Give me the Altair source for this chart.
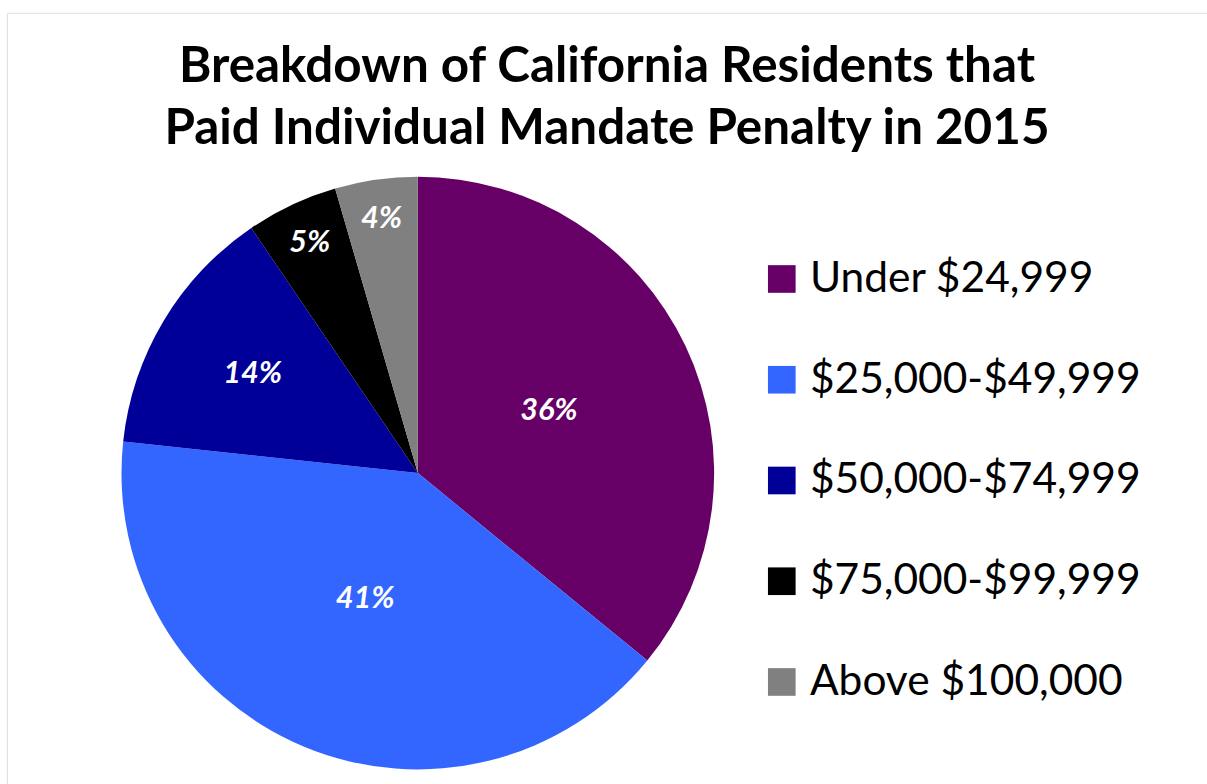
import altair as alt
import pandas as pd

# ---- data ----
categories = ["Under $24,999", "$25,000-$49,999", "$50,000-$74,999",
              "$75,000-$99,999", "Above $100,000"]
shares = [35.9, 40.8, 13.8, 5.0, 4.5]
labels = ["36%", "41%", "14%", "5%", "4%"]

# ---- styling ----
colors = ["#660066", "#3366FF", "#000099", "#000000", "#808080"]
label_radius_px = [147, 138, 195, 257, 260]
FONT = "Lato"

df = pd.DataFrame({
    "category": categories,
    "share": shares,
    "label": labels,
    "idx": list(range(len(categories))),
    "lr": label_radius_px,
})
total = float(sum(shares))

cx, cy = 419 - 7 + 4, 474 - 8
R = 300

theta_scale = alt.Scale(domain=[0, total])

pie = alt.Chart(df).mark_arc(outerRadius=R, stroke=None).encode(
    theta=alt.Theta("share:Q", stack=True, scale=theta_scale),
    order=alt.Order("idx:O"),
    x=alt.value(cx),
    y=alt.value(cy),
    color=alt.Color(
        "category:N",
        sort=categories,
        scale=alt.Scale(domain=categories, range=colors),
        legend=alt.Legend(
            title=None,
            orient="none",
            legendX=763,
            legendY=248,
            symbolType="square",
            symbolSize=784,
            symbolStrokeWidth=0,
            symbolOpacity=1,
            labelFont=FONT,
            labelFontSize=43,
            labelColor="#000000",
            labelOffset=7,
            labelLimit=600,
            rowPadding=58,
        ),
    ),
)

text = alt.Chart(df).transform_window(
    cum="sum(share)", sort=[alt.SortField("idx")]
).transform_calculate(
    mid="datum.cum - datum.share / 2"
).mark_text(
    font=FONT, fontSize=31, fontWeight="bold", fontStyle="italic",
    color="white", align="center", baseline="middle",
).encode(
    theta=alt.Theta("mid:Q", scale=theta_scale),
    x=alt.value(cx),
    y=alt.value(cy),
    radius=alt.Radius("lr:Q", scale=None),
    text="label:N",
)

chart = alt.layer(pie, text).properties(
    width=1215,
    height=790,
    autosize=alt.AutoSizeParams(type="none"),
    padding={"left": 7, "top": 8, "right": 0, "bottom": 0},
    title=alt.TitleParams(
        text=["Breakdown of California Residents that",
              "Paid Individual Mandate Penalty in 2015"],
        font=FONT, fontSize=50, fontWeight="bold", color="#000000",
        anchor="middle", frame="group", baseline="top",
        lineHeight=63, offset=0, dy=143,
    ),
).configure_view(
    stroke="#a3a3a3", strokeWidth=2, fill="white"
).configure(background="white")

chart.save("out.html", embed_options={"renderer": "svg", "actions": False})
